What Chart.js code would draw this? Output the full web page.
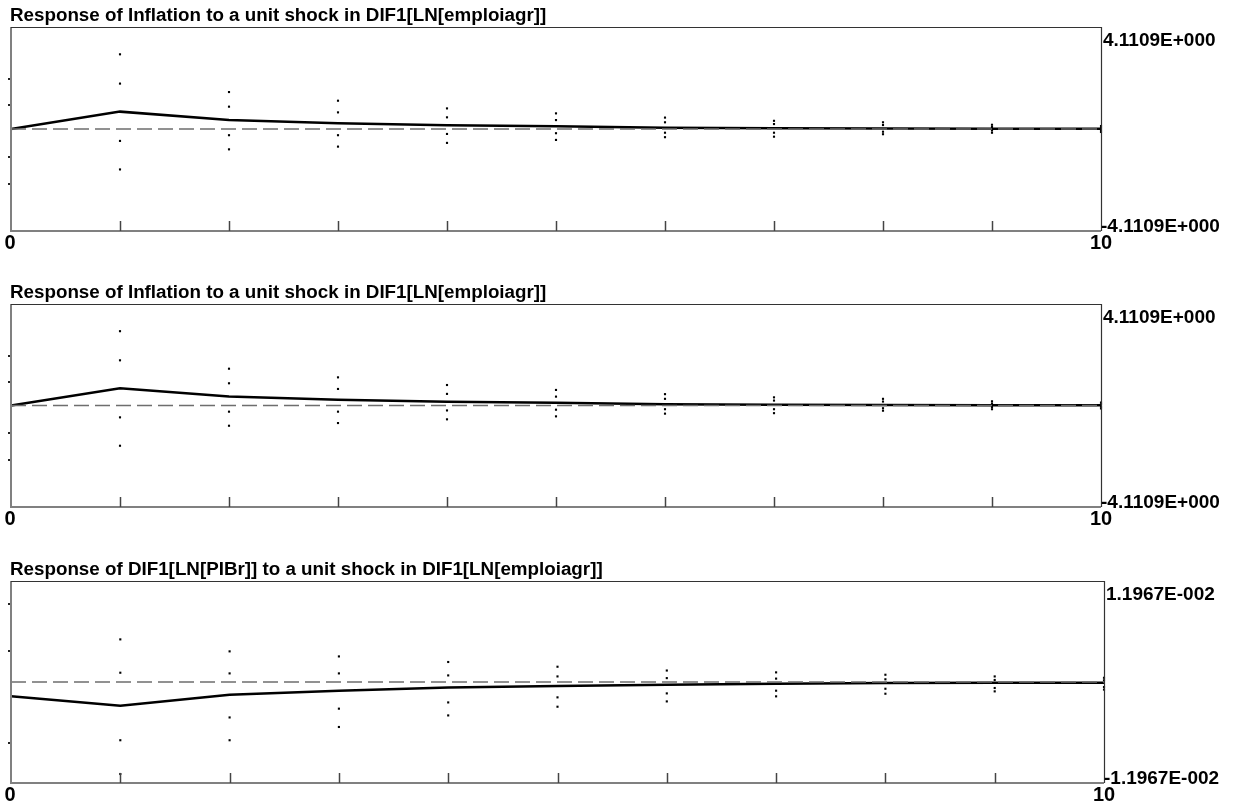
<!DOCTYPE html>
<html>
<head>
<meta charset="utf-8">
<script src="https://cdn.jsdelivr.net/npm/chart.js"></script>
<style>
  html, body { margin: 0; padding: 0; background: #fff; overflow: hidden; }
  canvas { position: absolute; left: 0; }
</style>
</head>
<body>
<canvas id="irf1" width="1240" height="277" style="top:0px"></canvas>
<canvas id="irf2" width="1240" height="277" style="top:277px"></canvas>
<canvas id="irf3" width="1240" height="256" style="top:554px"></canvas>
<script>
// horizons (steps after the shock)
const steps     = [0, 1, 2, 3, 4, 5, 6, 7, 8, 9, 10];
const bandSteps = [1, 2, 3, 4, 5, 6, 7, 8, 9, 10];
const xTicks    = [1, 2, 3, 4, 5, 6, 7, 8, 9];
const endLabels = ['0', '10'];

// Inflation <- DIF1[LN[emploiagr]]
const inflTitle  = 'Response of Inflation to a unit shock in DIF1[LN[emploiagr]]';
const inflRange  = 4.1109;
const inflLabels = ['4.1109E+000', '-4.1109E+000'];
const inflSideTicks = [2.02, 0.97, -1.13, -2.22];
const inflResp = [0, 0.70, 0.36, 0.23, 0.15, 0.11, 0.05, 0.03, 0.02, 0.01, 0.01];
const inflUp2  = [3.01, 1.49, 1.14, 0.83, 0.63, 0.46, 0.33, 0.27, 0.17, 0.12];
const inflUp1  = [1.83, 0.90, 0.67, 0.47, 0.36, 0.27, 0.20, 0.16, 0.08, 0.05];
const inflLo1  = [-0.48, -0.25, -0.25, -0.20, -0.17, -0.15, -0.15, -0.11, -0.06, -0.05];
const inflLo2  = [-1.63, -0.82, -0.71, -0.56, -0.44, -0.33, -0.31, -0.21, -0.15, -0.12];

// DIF1[LN[PIBr]] <- DIF1[LN[emploiagr]]
const pibTitle  = 'Response of DIF1[LN[PIBr]] to a unit shock in DIF1[LN[emploiagr]]';
const pibRange  = 0.011967;
const pibLabels = ['1.1967E-002', '-1.1967E-002'];
const pibSideTicks = [0.00924, 0.0037, -0.00723];
const pibResp = [-0.0017, -0.0028, -0.0015, -0.00103, -0.00064, -0.00047, -0.00032, -0.0002, -0.00012, -0.0001, -0.00008];
const pibUp2  = [0.00505, 0.00363, 0.00303, 0.00237, 0.00181, 0.00136, 0.00114, 0.00086, 0.00066, 0.0005];
const pibUp1  = [0.0011, 0.00102, 0.00102, 0.00078, 0.00066, 0.00046, 0.0004, 0.00032, 0.00024, 0.0002];
const pibLo1  = [-0.0069, -0.0042, -0.00316, -0.00242, -0.00182, -0.00135, -0.00103, -0.0008, -0.00071, -0.0006];
const pibLo2  = [-0.0109, -0.0069, -0.00533, -0.00396, -0.00293, -0.0023, -0.0017, -0.00139, -0.00111, -0.0009];

const toPts = (xs, ys) => xs.map((x, i) => ({ x, y: ys[i] }));

function dots(xs, ys) {
  return {
    data: toPts(xs, ys),
    showLine: false,
    pointStyle: 'rect',
    pointRadius: 1.5,
    pointBackgroundColor: '#000',
    pointBorderWidth: 0,
    clip: false
  };
}

// frame, inner ticks and texts, positioned from the chart's scales
const framePlugin = {
  id: 'frame',
  afterDatasetsDraw(chart, args, opts) {
    const { ctx, chartArea: a, scales } = chart;
    ctx.save();
    // left + bottom grey, top + right dark
    ctx.strokeStyle = '#808080';
    ctx.lineWidth = 2;
    ctx.beginPath();
    ctx.moveTo(a.left, a.top);
    ctx.lineTo(a.left, a.bottom);
    ctx.lineTo(a.right, a.bottom);
    ctx.stroke();
    ctx.strokeStyle = '#333';
    ctx.lineWidth = 1.2;
    ctx.beginPath();
    ctx.moveTo(a.left, a.top + 0.5);
    ctx.lineTo(a.right + 0.5, a.top + 0.5);
    ctx.lineTo(a.right + 0.5, a.bottom);
    ctx.stroke();

    // step ticks rising from the bottom edge
    ctx.strokeStyle = '#444';
    ctx.lineWidth = 1.5;
    xTicks.forEach(v => {
      const px = Math.round(scales.x.getPixelForValue(v)) + 0.5;
      ctx.beginPath();
      ctx.moveTo(px, a.bottom);
      ctx.lineTo(px, a.bottom - 10);
      ctx.stroke();
    });

    // small marks left of the frame
    ctx.fillStyle = '#222';
    opts.sideTicks.forEach(v => {
      const py = Math.round(scales.y.getPixelForValue(v));
      ctx.fillRect(a.left - 3, py - 1, 2, 2);
    });
    ctx.restore();
  },
  afterDraw(chart, args, opts) {
    const { ctx, chartArea: a, scales } = chart;
    ctx.save();
    ctx.fillStyle = '#000';
    ctx.textBaseline = 'alphabetic';

    ctx.font = 'bold 18.8px "Liberation Sans", Arial, sans-serif';
    ctx.textAlign = 'left';
    ctx.fillText(opts.title, 10, a.top - 6);

    ctx.font = 'bold 19px "Liberation Sans", Arial, sans-serif';
    const yTop = scales.y.getPixelForValue(scales.y.max);
    const yBot = scales.y.getPixelForValue(scales.y.min);
    ctx.fillText(opts.rangeLabels[0], a.right + 2, yTop + 19);
    ctx.fillText(opts.rangeLabels[1], a.right, yBot + 1);

    ctx.font = 'bold 20px "Liberation Sans", Arial, sans-serif';
    ctx.textAlign = 'center';
    ctx.fillText(endLabels[0], scales.x.getPixelForValue(0) - 1, a.bottom + 18);
    ctx.fillText(endLabels[1], scales.x.getPixelForValue(10), a.bottom + 18);
    ctx.restore();
  }
};

function makePanel(id, cfg) {
  const canvas = document.getElementById(id);
  return new Chart(canvas.getContext('2d'), {
    type: 'line',
    data: {
      datasets: [
        {
          data: toPts([0, 10], [0, 0]),
          borderColor: '#6e6e6e',
          borderWidth: 1.6,
          borderDash: [15, 6],
          pointRadius: 0
        },
        {
          data: toPts(steps, cfg.resp),
          borderColor: '#000',
          borderWidth: 2.5,
          pointRadius: 0,
          tension: 0
        },
        dots(bandSteps, cfg.up2),
        dots(bandSteps, cfg.up1),
        dots(bandSteps, cfg.lo1),
        dots(bandSteps, cfg.lo2)
      ]
    },
    options: {
      responsive: false,
      animation: false,
      events: [],
      layout: { padding: cfg.padding },
      plugins: {
        legend: { display: false },
        tooltip: { enabled: false },
        frame: { title: cfg.title, rangeLabels: cfg.labels, sideTicks: cfg.sideTicks }
      },
      scales: {
        x: { type: 'linear', min: 0, max: 10, display: false },
        y: { type: 'linear', min: -cfg.range, max: cfg.range, display: false }
      }
    },
    plugins: [framePlugin]
  });
}

const inflCfg = {
  title: inflTitle, range: inflRange, labels: inflLabels, sideTicks: inflSideTicks,
  resp: inflResp, up2: inflUp2, up1: inflUp1, lo1: inflLo1, lo2: inflLo2
};

makePanel('irf1', Object.assign({}, inflCfg, { padding: { left: 11, right: 139, top: 27, bottom: 46 } }));
makePanel('irf2', Object.assign({}, inflCfg, { padding: { left: 11, right: 139, top: 27, bottom: 47 } }));
makePanel('irf3', {
  title: pibTitle, range: pibRange, labels: pibLabels, sideTicks: pibSideTicks,
  resp: pibResp, up2: pibUp2, up1: pibUp1, lo1: pibLo1, lo2: pibLo2,
  padding: { left: 11, right: 136, top: 27, bottom: 27 }
});
</script>
</body>
</html>
